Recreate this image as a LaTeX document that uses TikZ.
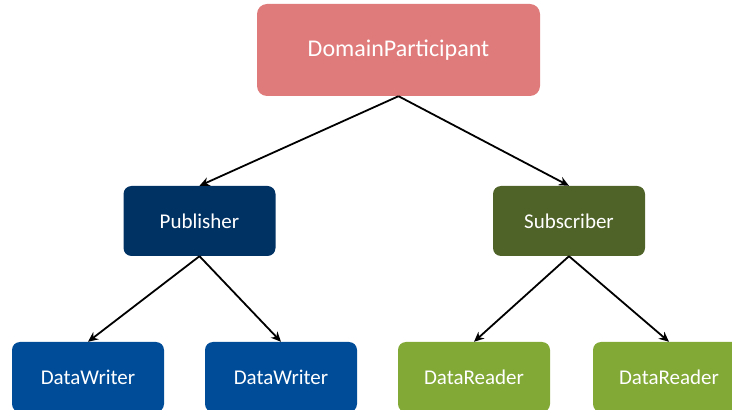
\documentclass[tikz,border=0pt]{standalone}
\usepackage{fontspec}
\setmainfont{Carlito}
\usetikzlibrary{arrows.meta}
\definecolor{dpcol}{RGB}{224,123,123}
\definecolor{pubcol}{RGB}{0,50,100}
\definecolor{subcol}{RGB}{79,98,40}
\definecolor{dwcol}{RGB}{0,76,153}
\definecolor{drcol}{RGB}{130,168,54}
\tikzset{
  box/.style={rectangle, rounded corners=8pt, minimum width=152pt, minimum height=70pt, inner sep=0pt, text=white, font=\fontsize{21}{24}\selectfont},
  conn/.style={line width=1.8pt, -{Stealth[length=10pt,width=9pt]}},
}
\begin{document}
\begin{tikzpicture}[x=1pt,y=1pt]
\useasboundingbox (0,0) rectangle (732,410);
\node[box, fill=dpcol, minimum width=283pt, minimum height=92pt, rounded corners=10pt, font=\fontsize{24}{28}\selectfont] (dp) at (398.5,360) {DomainParticipant};
\node[box, fill=pubcol] (pub) at (199.5,189) {Publisher};
\node[box, fill=subcol] (sub) at (569,189) {Subscriber};
\node[box, fill=dwcol] (dw1) at (88,33) {DataWriter};
\node[box, fill=dwcol] (dw2) at (281,33) {DataWriter};
\node[box, fill=drcol] (dr1) at (474,33) {DataReader};
\node[box, fill=drcol] (dr2) at (669,33) {DataReader};
\draw[conn] (dp.south) -- (pub.north);
\draw[conn] (dp.south) -- (sub.north);
\draw[conn] (pub.south) -- (dw1.north);
\draw[conn] (pub.south) -- (dw2.north);
\draw[conn] (sub.south) -- (dr1.north);
\draw[conn] (sub.south) -- (dr2.north);
\end{tikzpicture}
\end{document}
